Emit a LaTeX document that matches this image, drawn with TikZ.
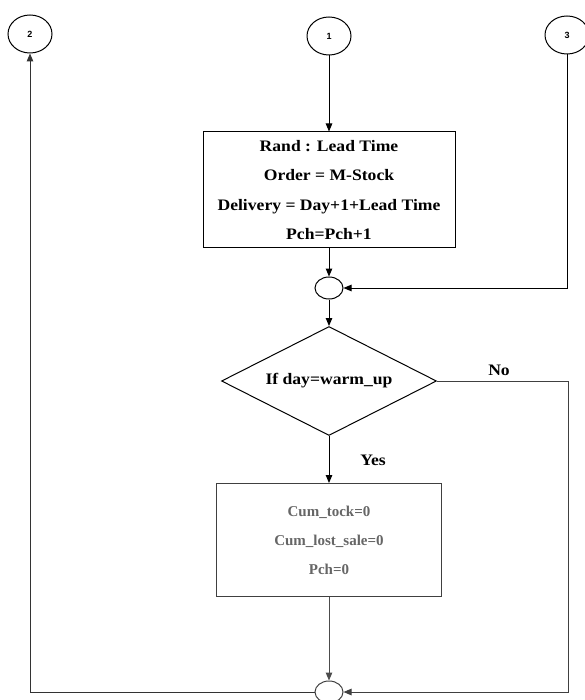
\documentclass[tikz,border=0pt]{standalone}
\usepackage{fontspec}
\setmainfont{Liberation Serif}
\newfontfamily\widefont{Liberation Serif}[FakeStretch=1.1]
\newfontfamily\numfont{Liberation Sans}
\usetikzlibrary{shapes.geometric,arrows.meta}
\tikzset{
  conn/.style={line width=1pt, -{Triangle[length=8pt,width=6.5pt]}},
  conncircle/.style={ellipse, draw, line width=1pt, inner sep=0pt, minimum width=44pt, minimum height=38pt, font=\numfont\bfseries\fontsize{9}{9}\selectfont},
  junction/.style={ellipse, draw, line width=1pt, inner sep=0pt, minimum width=28pt, minimum height=22pt},
  procbox/.style={rectangle, draw, line width=1pt, inner sep=0pt, align=center, font=\widefont\bfseries\fontsize{16}{29.5}\selectfont},
  graybox/.style={rectangle, draw=black!75, line width=1pt, inner sep=0pt, align=center, text=black!60, font=\bfseries\fontsize{15}{29}\selectfont},
  decision/.style={diamond, draw, line width=1pt, inner sep=0pt, shape aspect=2, minimum width=215pt, minimum height=109pt, font=\widefont\bfseries\fontsize{16}{16}\selectfont},
  lbl/.style={font=\widefont\bfseries\fontsize{16}{16}\selectfont}
}
\begin{document}
\begin{tikzpicture}[x=1pt,y=-1pt]
\useasboundingbox (0,0) rectangle (584,700);
\node[conncircle] (c2) at (30,34) {2};
\node[conncircle] (c1) at (329,36) {1};
\node[conncircle] (c3) at (567,35) {3};
\node[procbox, minimum width=252pt, minimum height=116pt] (box1) at (329,190)
  {Rand : Lead Time\\Order = M-Stock\\Delivery = Day+1+Lead Time\\Pch=Pch+1};
\node[junction] (j1) at (329,288) {};
\node[decision] (dia) at (329,381) {If day=warm\_up};
\node[graybox, minimum width=225pt, minimum height=113pt] (box2) at (329,540)
  {Cum\_tock=0\\Cum\_lost\_sale=0\\Pch=0};
\node[junction, draw=black!75] (j2) at (329,692) {};
\node[lbl] (yes) at (373,460) {Yes};
\node[lbl] (no) at (499,370) {No};
\coordinate (nr) at (568,381);

\draw[conn] (c1.south) -- (box1.north);
\draw[conn] (box1.south) -- (j1.north);
\draw[conn] (c3.south) |- (j1.east);
\draw[conn] (j1.south) -- (dia.north);
\draw[conn] (dia.south) -- (box2.north);
\draw[conn, black!75] (dia.east) -- (nr) |- (j2.east);
\draw[conn, black!70] (box2.south) -- (j2.north);
\draw[conn, black!80] (j2.west) -| (c2.south);
\end{tikzpicture}
\end{document}
